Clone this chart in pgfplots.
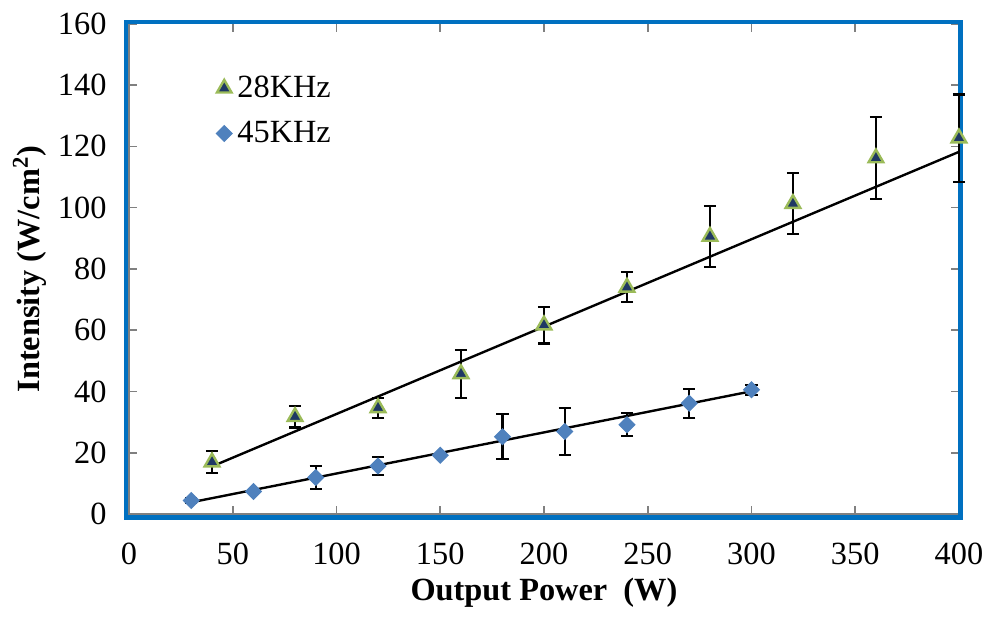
\documentclass[border=0pt]{standalone}
\usepackage{fontspec}
\setmainfont{Liberation Serif}
\usepackage{pgfplots}
\pgfplotsset{compat=1.18}
\definecolor{frameblue}{RGB}{0,112,192}
\definecolor{tri}{RGB}{31,56,100}
\definecolor{triedge}{RGB}{155,187,89}
\definecolor{dia}{RGB}{79,129,189}
\begin{document}
\begin{tikzpicture}
\begin{axis}[
  scale only axis,
  width=313pt, height=185pt,
  xmin=0, xmax=400, ymin=0, ymax=160,
  xtick={0,50,...,400}, ytick={0,20,...,160},
  /pgf/number format/assume math mode=true,
  tick label style={font=\fontsize{12.2}{14}\selectfont},
  xticklabel style={yshift=-7.5pt},
  yticklabel style={xshift=-5pt},
  tick align=inside,
  tick style={gray, line width=0.6pt},
  major tick length=3pt,
  axis line style={draw=none},
  xlabel={\textbf{Output Power\ \ (W)}},
  ylabel={\textbf{Intensity (W/cm\textsuperscript{2})}},
  label style={font=\fontsize{12.2}{14}\selectfont},
  xlabel style={yshift=2pt},
  ylabel style={yshift=-2.5pt},
  clip=false,
  legend style={draw=none, fill=none, at={(0.095,0.917)}, anchor=north west,
     font=\fontsize{12.2}{14}\selectfont, row sep=3.5pt,
     legend cell align=left},
  legend image code/.code={\draw[#1] plot coordinates {(0cm,0cm)};},
]
\draw[gray, line width=0.8pt] (rel axis cs:0,1) -- (rel axis cs:0,0) -- (rel axis cs:1,0);
\draw[frameblue, line width=1.6pt] ([shift={(-1.2pt,-1.2pt)}]rel axis cs:0,0) rectangle ([shift={(0.6pt,0.6pt)}]rel axis cs:1,1);

\addplot[only marks, mark=triangle*, mark size=3.2pt,
  mark options={fill=tri, draw=triedge, line width=0.9pt},
  error bars/.cd, y dir=both, y explicit,
  error mark options={rotate=90, mark size=2.3pt, black, line width=0.8pt},
  error bar style={black, line width=0.8pt}]
coordinates {
 (40,17) +- (0,3.6)
 (80,31.8) +- (0,3.5)
 (120,34.7) +- (0,3.3)
 (160,45.8) +- (0,7.8)
 (200,61.7) +- (0,6.0)
 (240,74.0) +- (0,4.9)
 (280,90.6) +- (0,10.0)
 (320,101.3) +- (0,10.0)
 (360,116.2) +- (0,13.5)
 (400,122.7) +- (0,14.2)
};
\addlegendentry{28KHz}

\addplot[only marks, mark=square*, mark size=2.1pt,
  mark options={fill=dia, draw=dia, rotate=45},
  error bars/.cd, y dir=both, y explicit,
  error mark options={rotate=90, mark size=2.3pt, black, line width=0.8pt},
  error bar style={black, line width=0.8pt}]
coordinates {
 (30,4.5) +- (0,0.8)
 (60,7.4) +- (0,0.6)
 (90,12.0) +- (0,3.7)
 (120,15.7) +- (0,3.0)
 (150,19.2) +- (0,0.5)
 (180,25.3) +- (0,7.3)
 (210,27.0) +- (0,7.6)
 (240,29.2) +- (0,3.7)
 (270,36.2) +- (0,4.7)
 (300,40.6) +- (0,1.6)
};
\addlegendentry{45KHz}

\addplot[black, line width=0.9pt, forget plot] coordinates {(40,15.6) (400,118.2)};
\addplot[black, line width=0.9pt, forget plot] coordinates {(30,3.9) (300,40.1)};
\end{axis}
\path ([xshift=-1.5pt,yshift=1.5pt]current bounding box.north west) rectangle ([yshift=-2pt]current bounding box.south east);
\end{tikzpicture}
\end{document}
